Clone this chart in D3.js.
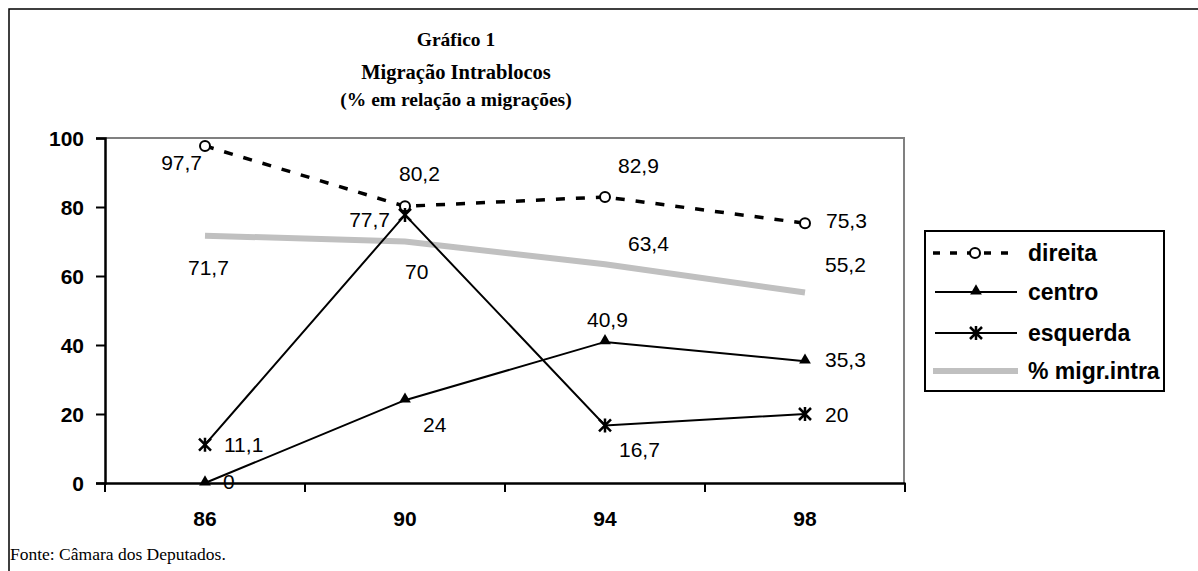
<!DOCTYPE html>
<html>
<head>
<meta charset="utf-8">
<script src="https://cdn.jsdelivr.net/npm/d3@7"></script>
<style>
  body { margin: 0; background: #fff; }
  svg { display: block; }
</style>
</head>
<body>
<svg id="chart" width="1198" height="571"></svg>
<script>
// data
var years = ["86", "90", "94", "98"];
var direita = [97.7, 80.2, 82.9, 75.3];
var centro = [0, 24, 40.9, 35.3];
var esquerda = [11.1, 77.7, 16.7, 20];
var migrIntra = [71.7, 70, 63.4, 55.2];
var yTicks = [0, 20, 40, 60, 80, 100];
var titleLines = ["Gráfico 1", "Migração Intrablocos", "(% em relação a migrações)"];

// label placement per point: [dx, dy, anchor]
var lblDireita = [[-3, 24, "end"], [-6, -25, "start"], [13, -24, "start"], [21, 5, "start"]];
var lblCentro = [[18, 6, "start"], [18, 32, "start"], [-18, -15, "start"], [20, 6, "start"]];
var lblEsquerda = [[19, 7, "start"], [-15, 12, "end"], [14, 32, "start"], [20, 8, "start"]];
var lblIntra = [[-17, 39, "start"], [0, 37, "start"], [23, -13, "start"], [20, -21, "start"]];

var svg = d3.select("#chart");
var fmt = function (v) { return String(v).replace(".", ","); };

// outer frame
svg.append("rect")
  .attr("x", 9).attr("y", 9)
  .attr("width", 1300).attr("height", 700)
  .attr("fill", "none").attr("stroke", "#000").attr("stroke-width", 1.5);

var x = d3.scaleBand().domain(years).range([105, 905]);
var y = d3.scaleLinear().domain([0, 100]).range([483, 138]);
var cx = function (i) { return x(years[i]) + x.bandwidth() / 2; };

// title
svg.append("g").selectAll("text")
  .data(titleLines)
  .enter().append("text")
  .attr("x", 456)
  .attr("y", function (d, i) { return [46, 79, 106][i]; })
  .attr("text-anchor", "middle")
  .style("font-family", "'Liberation Serif', serif")
  .style("font-weight", "bold")
  .style("font-size", function (d, i) { return i === 1 ? "20.5px" : "19.5px"; })
  .text(function (d) { return d; });

// plot area border (gray top + right)
svg.append("path")
  .attr("d", "M105," + y(100) + "H904V" + y(0))
  .attr("fill", "none").attr("stroke", "#808080").attr("stroke-width", 2);

// axes
var yAxis = svg.append("g")
  .attr("transform", "translate(105,0)")
  .call(d3.axisLeft(y).tickValues(yTicks).tickSize(9).tickPadding(12));
var xAxis = svg.append("g")
  .attr("transform", "translate(0," + y(0) + ")")
  .call(d3.axisBottom(x).tickSize(0).tickPadding(28));
// category separators
xAxis.selectAll(".sep")
  .data(d3.range(years.length + 1))
  .enter().append("line")
  .attr("x1", function (d) { return 105 + d * x.bandwidth(); })
  .attr("x2", function (d) { return 105 + d * x.bandwidth(); })
  .attr("y1", 0).attr("y2", 9)
  .attr("stroke", "#000").attr("stroke-width", 2);

[yAxis, xAxis].forEach(function (g) {
  g.select(".domain").attr("stroke", "#000").attr("stroke-width", 2.5);
  g.selectAll(".tick line").attr("stroke", "#000").attr("stroke-width", 2);
  g.selectAll("text")
    .style("font-family", "'Liberation Sans', Arial, sans-serif")
    .style("font-weight", "bold")
    .style("font-size", "21px")
    .attr("fill", "#000");
});
yAxis.selectAll("text").attr("dy", "0.36em");

var line = d3.line()
  .x(function (d, i) { return cx(i); })
  .y(function (d) { return y(d); });

// series
svg.append("path").datum(migrIntra).attr("d", line)
  .attr("fill", "none").attr("stroke", "#c0c0c0").attr("stroke-width", 6);
svg.append("path").datum(centro).attr("d", line)
  .attr("fill", "none").attr("stroke", "#000").attr("stroke-width", 2);
svg.append("path").datum(esquerda).attr("d", line)
  .attr("fill", "none").attr("stroke", "#000").attr("stroke-width", 2);
svg.append("path").datum(direita).attr("d", line)
  .attr("fill", "none").attr("stroke", "#000").attr("stroke-width", 3.5)
  .attr("stroke-dasharray", "9,11");

function circleMark(g, px, py) {
  g.append("circle").attr("cx", px).attr("cy", py).attr("r", 5)
    .attr("fill", "#fff").attr("stroke", "#000").attr("stroke-width", 2);
}
function triMark(g, px, py) {
  g.append("path")
    .attr("d", d3.symbol().type(d3.symbolTriangle).size(60)())
    .attr("transform", "translate(" + px + "," + (py - 1) + ")")
    .attr("fill", "#000");
}
function starMark(g, px, py) {
  var s = 6;
  g.append("path")
    .attr("d", "M" + (px - s) + "," + (py - s) + "L" + (px + s) + "," + (py + s) +
      "M" + (px + s) + "," + (py - s) + "L" + (px - s) + "," + (py + s) +
      "M" + px + "," + (py - s - 1) + "L" + px + "," + (py + s + 1))
    .attr("stroke", "#000").attr("stroke-width", 2.5);
}

var marks = svg.append("g");
direita.forEach(function (v, i) { circleMark(marks, cx(i), y(v)); });
centro.forEach(function (v, i) { triMark(marks, cx(i), y(v)); });
esquerda.forEach(function (v, i) { starMark(marks, cx(i), y(v)); });

// data labels
function labels(vals, pos) {
  svg.append("g").selectAll("text")
    .data(vals)
    .enter().append("text")
    .attr("x", function (d, i) { return cx(i) + pos[i][0]; })
    .attr("y", function (d, i) { return y(d) + pos[i][1]; })
    .attr("text-anchor", function (d, i) { return pos[i][2]; })
    .style("font-family", "'Liberation Sans', Arial, sans-serif")
    .style("font-size", "21px")
    .text(function (d) { return fmt(d); });
}
labels(direita, lblDireita);
labels(centro, lblCentro);
labels(esquerda, lblEsquerda);
labels(migrIntra, lblIntra);

// legend
var legend = svg.append("g");
legend.append("clipPath").attr("id", "legclip")
  .append("rect").attr("x", 925).attr("y", 231).attr("width", 239).attr("height", 160);
legend.append("rect")
  .attr("x", 925).attr("y", 231).attr("width", 239).attr("height", 160)
  .attr("fill", "#fff");
var legNames = ["direita", "centro", "esquerda", "% migr.intra"];
var legY = [253, 292, 333, 371];
legNames.forEach(function (name, i) {
  var ly = legY[i];
  if (i === 0) {
    legend.append("line").attr("x1", 933).attr("x2", 1018).attr("y1", ly).attr("y2", ly)
      .attr("stroke", "#000").attr("stroke-width", 3.5).attr("stroke-dasharray", "7,10");
    circleMark(legend, 975, ly);
  } else if (i === 3) {
    legend.append("line").attr("x1", 933).attr("x2", 1018).attr("y1", ly).attr("y2", ly)
      .attr("stroke", "#c0c0c0").attr("stroke-width", 6);
  } else {
    legend.append("line").attr("x1", 935).attr("x2", 1017).attr("y1", ly).attr("y2", ly)
      .attr("stroke", "#000").attr("stroke-width", 2);
    if (i === 1) triMark(legend, 976, ly); else starMark(legend, 976, ly);
  }
  legend.append("text")
    .attr("x", 1028).attr("y", ly + 8)
    .attr("clip-path", "url(#legclip)")
    .style("font-family", "'Liberation Sans', Arial, sans-serif")
    .style("font-weight", "bold")
    .style("font-size", "23px")
    .text(name);
});
legend.append("rect")
  .attr("x", 925).attr("y", 231).attr("width", 239).attr("height", 160)
  .attr("fill", "none").attr("stroke", "#000").attr("stroke-width", 2);

// source
svg.append("text")
  .attr("x", 10).attr("y", 560)
  .style("font-family", "'Liberation Serif', serif")
  .style("font-size", "17.5px")
  .text("Fonte: Câmara dos Deputados.");
</script>
</body>
</html>
